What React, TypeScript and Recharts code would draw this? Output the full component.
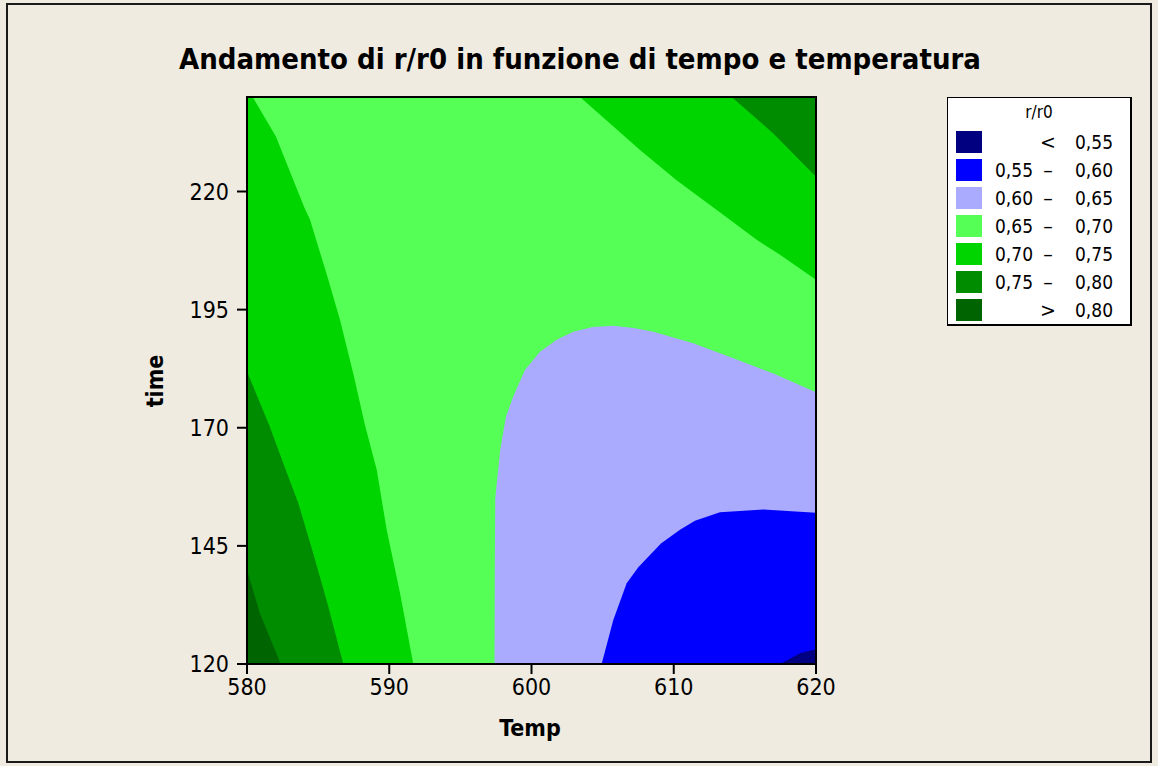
import React from 'react';
import { ComposedChart, Area, XAxis, YAxis, Legend, ReferenceArea } from 'recharts';

// Axes
const tempTicks = [580, 590, 600, 610, 620];
const timeTicks = [120, 145, 170, 195, 220];
const tempDomain = [580, 620];
const timeDomain = [120, 240];

// Legend (contour levels)
const legendTitle = 'r/r0';
const legendLow = ['', '0,55', '0,60', '0,65', '0,70', '0,75', ''];
const legendSep = ['<', '–', '–', '–', '–', '–', '>'];
const legendHigh = ['0,55', '0,60', '0,65', '0,70', '0,75', '0,80', '0,80'];
const levelColors = ['#000080', '#0000FF', '#AAAAFF', '#55FF55', '#00D500', '#008C00', '#006400'];

// Contour regions (temp, time) – each filled from its boundary to the axis floor/ceiling
const region065All = [
  { temp: 580, time: 240 },
  { temp: 620, time: 240 },
];
const region070Left = [
  { temp: 580, time: 240 },
  { temp: 580.4, time: 240 },
  { temp: 582.04, time: 231.6 },
  { temp: 583.26, time: 222.4 },
  { temp: 584.03, time: 216.6 },
  { temp: 584.43, time: 214.0 },
  { temp: 585.65, time: 202.0 },
  { temp: 586.54, time: 192.8 },
  { temp: 587.47, time: 181.5 },
  { temp: 588.3, time: 170.5 },
  { temp: 589.12, time: 161.1 },
  { temp: 589.82, time: 148.4 },
  { temp: 590.76, time: 135.0 },
  { temp: 591.69, time: 120 },
];
const region075Left = [
  { temp: 580, time: 181.9 },
  { temp: 581.57, time: 170.5 },
  { temp: 582.55, time: 162.5 },
  { temp: 583.61, time: 154.0 },
  { temp: 584.66, time: 143.4 },
  { temp: 585.72, time: 132.1 },
  { temp: 586.77, time: 120 },
];
const region080Left = [
  { temp: 580, time: 139.9 },
  { temp: 580.91, time: 130.7 },
  { temp: 582.37, time: 120 },
];
const region070TopRight = [
  { temp: 603.41, time: 240 },
  { temp: 605.64, time: 234.1 },
  { temp: 607.63, time: 228.8 },
  { temp: 610.2, time: 222.4 },
  { temp: 613.95, time: 214.0 },
  { temp: 615.83, time: 209.8 },
  { temp: 617.47, time: 206.6 },
  { temp: 620, time: 201.3 },
];
const region075TopRight = [
  { temp: 614.07, time: 240 },
  { temp: 617.0, time: 232.3 },
  { temp: 620, time: 223.1 },
];
const region060 = [
  { temp: 597.4, time: 120 },
  { temp: 597.42, time: 140 },
  { temp: 597.45, time: 155 },
  { temp: 597.8, time: 165.3 },
  { temp: 598.2, time: 172.3 },
  { temp: 598.72, time: 176.6 },
  { temp: 599.54, time: 182.2 },
  { temp: 600.6, time: 186.1 },
  { temp: 601.77, time: 188.6 },
  { temp: 602.94, time: 190.3 },
  { temp: 604.3, time: 191.3 },
  { temp: 605.75, time: 191.6 },
  { temp: 607.2, time: 191.1 },
  { temp: 608.56, time: 190.3 },
  { temp: 611.37, time: 187.9 },
  { temp: 614.19, time: 184.7 },
  { temp: 617.0, time: 181.5 },
  { temp: 620, time: 177.5 },
];
const region055 = [
  { temp: 604.93, time: 120 },
  { temp: 605.75, time: 129.3 },
  { temp: 606.69, time: 137.1 },
  { temp: 607.51, time: 140.5 },
  { temp: 609.1, time: 145.5 },
  { temp: 610.44, time: 148.4 },
  { temp: 611.49, time: 150.3 },
  { temp: 613.25, time: 152.1 },
  { temp: 616.3, time: 152.7 },
  { temp: 620, time: 152.0 },
];
const regionBelow055 = [
  { temp: 617.47, time: 120 },
  { temp: 618.88, time: 122.3 },
  { temp: 620, time: 123.1 },
];

const FONT = '"DejaVu Sans Condensed", "DejaVu Sans", Tahoma, sans-serif';
const BG = '#EFEBE1';

const LegendBox = () => (
  <div
    style={{
      position: 'relative',
      width: 185,
      height: 229,
      background: '#fff',
      border: '1px solid #000',
      borderRightWidth: 2,
      borderBottomWidth: 2,
      boxSizing: 'border-box',
      fontFamily: FONT,
      fontSize: 19,
      color: '#000',
    }}
  >
    <div style={{ position: 'absolute', top: 4, left: 0, width: '100%', textAlign: 'center', fontSize: 17 }}>
      {legendTitle}
    </div>
    {levelColors.map((c, i) => (
      <div key={i} style={{ position: 'absolute', left: 0, top: 33 + i * 28, width: '100%', height: 22 }}>
        <div style={{ position: 'absolute', left: 8, top: 0, width: 26, height: 22, background: c }} />
        <div style={{ position: 'absolute', left: 47, top: 0, lineHeight: '22px' }}>{legendLow[i]}</div>
        <div
          style={{
            position: 'absolute',
            left: 88,
            width: 24,
            textAlign: 'center',
            top: 0,
            lineHeight: '22px',
            fontFamily: '"DejaVu Sans", sans-serif',
          }}
        >
          {legendSep[i]}
        </div>
        <div style={{ position: 'absolute', right: 17, top: 0, lineHeight: '22px' }}>{legendHigh[i]}</div>
      </div>
    ))}
  </div>
);

const areaCommon = {
  dataKey: 'time',
  type: 'linear' as const,
  stroke: 'none',
  fillOpacity: 1,
  isAnimationActive: false,
  dot: false,
  activeDot: false,
  legendType: 'none' as const,
};

export default function App() {
  const tickStyle = { fontFamily: FONT, fontSize: 23, fill: '#000' };
  return (
    <div style={{ position: 'absolute', left: 0, top: 0, width: 1158, height: 766, background: BG }}>
      <div
        style={{
          position: 'absolute',
          left: 6,
          top: 3,
          width: 1146,
          height: 760,
          border: '2px solid #1a1a1a',
          boxSizing: 'border-box',
          pointerEvents: 'none',
        }}
      />
      <ComposedChart
        width={1158}
        height={766}
        margin={{ top: 97, right: 342, bottom: 42, left: 0 }}
        style={{ position: 'absolute', left: 0, top: 0 }}
      >
        <XAxis
          dataKey="temp"
          type="number"
          domain={tempDomain}
          ticks={tempTicks}
          allowDataOverflow
          height={60}
          tickSize={10}
          tickMargin={5}
          tick={tickStyle}
          axisLine={{ stroke: '#000', strokeWidth: 2 }}
          tickLine={{ stroke: '#000', strokeWidth: 2 }}
        />
        <YAxis
          type="number"
          domain={timeDomain}
          ticks={timeTicks}
          allowDataOverflow
          width={247}
          tickSize={10}
          tickMargin={8}
          tick={tickStyle}
          axisLine={{ stroke: '#000', strokeWidth: 2 }}
          tickLine={{ stroke: '#000', strokeWidth: 2 }}
        />
        <Area {...areaCommon} data={region065All} fill={levelColors[3]} />
        <Area {...areaCommon} data={region070Left} fill={levelColors[4]} />
        <Area {...areaCommon} data={region075Left} fill={levelColors[5]} />
        <Area {...areaCommon} data={region080Left} fill={levelColors[6]} />
        <Area {...areaCommon} data={region070TopRight} fill={levelColors[4]} baseValue="dataMax" />
        <Area {...areaCommon} data={region075TopRight} fill={levelColors[5]} baseValue="dataMax" />
        <Area {...areaCommon} data={region060} fill={levelColors[2]} />
        <Area {...areaCommon} data={region055} fill={levelColors[1]} />
        <Area {...areaCommon} data={regionBelow055} fill={levelColors[0]} />
        <ReferenceArea
          x1={580}
          x2={620}
          y1={120}
          y2={240}
          fill="none"
          fillOpacity={0}
          stroke="#000"
          strokeWidth={2}
          ifOverflow="visible"
        />
        <Legend
          layout="vertical"
          align="center"
          verticalAlign="middle"
          content={() => <LegendBox />}
          wrapperStyle={{ position: 'absolute', left: 947, top: 97, width: 187, height: 230 }}
        />
        <text
          x={580}
          y={69}
          textAnchor="middle"
          fontFamily={FONT}
          fontWeight="bold"
          fontSize={29}
          fill="#000"
        >
          Andamento di r/r0 in funzione di tempo e temperatura
        </text>
        <text x={530} y={736} textAnchor="middle" fontFamily={FONT} fontWeight="bold" fontSize={23} fill="#000">
          Temp
        </text>
        <text
          x={163}
          y={381}
          textAnchor="middle"
          fontFamily={FONT}
          fontWeight="bold"
          fontSize={23}
          fill="#000"
          transform="rotate(-90 163 381)"
        >
          time
        </text>
      </ComposedChart>
    </div>
  );
}
